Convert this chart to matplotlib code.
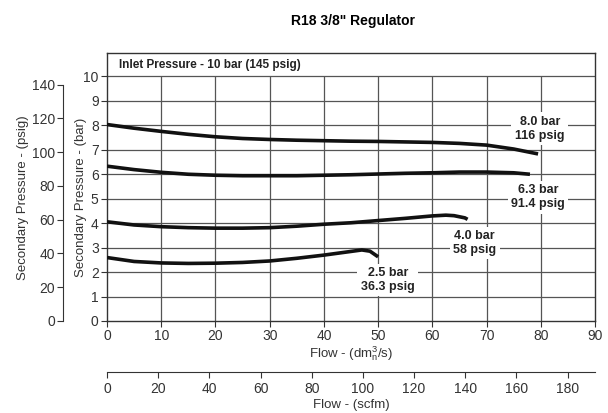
import numpy as np
import matplotlib.pyplot as plt

plt.rcParams['font.family'] = ['Liberation Sans', 'DejaVu Sans']
plt.rcParams['mathtext.fontset'] = 'custom'
plt.rcParams['mathtext.rm'] = 'Liberation Sans'

# curves: flow (dm3n/s) vs secondary pressure (bar)
flow_80 = [0, 5, 10, 15, 20, 25, 30, 35, 40, 45, 50, 55, 60, 65, 70, 75, 79.5]
bar_80 = [8.02, 7.87, 7.74, 7.62, 7.52, 7.45, 7.41, 7.38, 7.36, 7.34, 7.33, 7.31, 7.29, 7.25, 7.18, 7.02, 6.82]
flow_63 = [0, 5, 10, 15, 20, 25, 30, 35, 40, 45, 50, 55, 60, 65, 70, 75, 78]
bar_63 = [6.32, 6.18, 6.07, 5.99, 5.95, 5.93, 5.93, 5.93, 5.95, 5.97, 6.0, 6.03, 6.05, 6.08, 6.08, 6.05, 5.99]
flow_40 = [0, 5, 10, 15, 20, 25, 30, 35, 40, 45, 50, 55, 60, 62.5, 64, 66, 66.5]
bar_40 = [4.05, 3.92, 3.85, 3.81, 3.79, 3.79, 3.81, 3.87, 3.95, 4.01, 4.1, 4.19, 4.29, 4.32, 4.3, 4.21, 4.15]
flow_25 = [0, 5, 10, 15, 20, 25, 30, 35, 40, 45, 47, 48.5, 50]
bar_25 = [2.59, 2.43, 2.37, 2.35, 2.36, 2.39, 2.45, 2.56, 2.69, 2.84, 2.9, 2.85, 2.62]

curves = [(flow_80, bar_80), (flow_63, bar_63), (flow_40, bar_40), (flow_25, bar_25)]

labels = ["8.0 bar\n116 psig", "6.3 bar\n91.4 psig", "4.0 bar\n58 psig", "2.5 bar\n36.3 psig"]
label_x = [79.8, 79.5, 67.8, 51.8]
label_y = [7.85, 5.05, 3.18, 1.67]

BAR_TO_PSI = 14.5038
DM3_TO_SCFM = 2.11888
top = 10.94

fig = plt.figure(figsize=(6.08, 4.13), dpi=100)
pos = [107/608, 1-321/413, (595-107)/608, (321-53)/413]

# psig axis (left, outward)
axp = fig.add_axes(pos)
axp.patch.set_visible(False)
for s in ['top', 'right', 'bottom']:
    axp.spines[s].set_visible(False)
axp.spines['left'].set_position(('outward', 31.5))
axp.spines['left'].set_bounds(0, 140)
axp.spines['left'].set_color('#333333')
axp.set_ylim(0, top*BAR_TO_PSI)
axp.set_yticks(range(0, 141, 20))
axp.set_xticks([])
axp.tick_params(axis='y', labelsize=10, length=4, width=0.8, pad=2, colors='#333333')
axp.set_ylabel("Secondary Pressure - (psig)", fontsize=9.5, color='#333333')
axp.yaxis.set_label_coords(-0.16, 0.46)

# scfm axis (bottom, lower)
axs = fig.add_axes(pos)
axs.patch.set_visible(False)
for s in ['top', 'right', 'left']:
    axs.spines[s].set_visible(False)
axs.spines['bottom'].set_position(('outward', 37))
axs.spines['bottom'].set_color('#333333')
axs.set_xlim(0, 90*DM3_TO_SCFM)
axs.set_xticks(range(0, 181, 20))
axs.set_yticks([])
axs.tick_params(axis='x', labelsize=10, length=4, width=0.8, pad=3, colors='#333333')
axs.set_xlabel("Flow - (scfm)", fontsize=9.5, labelpad=2, color='#333333')

ax = fig.add_axes(pos)
ax.patch.set_visible(False)
ax.set_xlim(0, 90)
ax.set_ylim(0, top)
ax.set_xticks(range(0, 91, 10))
ax.set_yticks(range(0, 11))
ax.tick_params(labelsize=10, length=4, width=0.8, pad=2, colors='#333333')
for s in ax.spines.values():
    s.set_linewidth(1.0)
    s.set_color('#333333')

ax.hlines(range(1, 11), 0, 90, color='#555555', lw=0.9, zorder=1)
ax.vlines(range(10, 90, 10), 0, 10, color='#555555', lw=0.9, zorder=1)

for fx, by in curves:
    ax.plot(fx, by, color='#111111', lw=2.6, solid_capstyle='butt', zorder=3)

for t, x, y in zip(labels, label_x, label_y):
    ax.text(x, y, t, ha='center', va='center', fontsize=9, fontweight='bold',
            color='#222222', linespacing=1.2,
            bbox=dict(facecolor='white', edgecolor='none', pad=2.5), zorder=4)

ax.text(2.3, 10.47, "Inlet Pressure - 10 bar (145 psig)", ha='left', va='center',
        fontsize=8.5, fontweight='bold', color='#222222')

ax.set_ylabel("Secondary Pressure - (bar)", fontsize=9.5, color='#333333')
ax.yaxis.set_label_coords(-0.04, 0.46)
ax.set_xlabel(r"Flow - (dm$\mathregular{_n^3}$/s)", fontsize=9.5, labelpad=1, color='#333333')

fig.suptitle('R18 3/8" Regulator', x=0.58, y=0.965, fontsize=10, fontweight='bold')

fig.savefig("out.png", dpi=100)
